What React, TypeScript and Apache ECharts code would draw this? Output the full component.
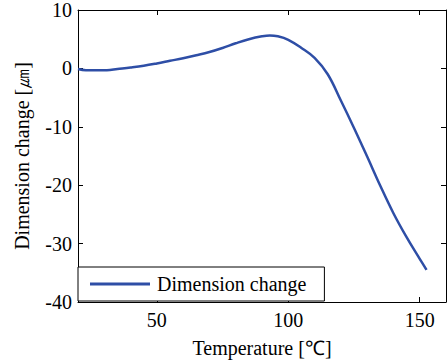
import React, { useEffect, useRef } from "react";
import * as echarts from "echarts";

const temperature = [20, 23, 31, 35, 40, 45, 50, 55, 60, 65, 70, 75, 80, 85, 90, 93, 96, 100, 105, 110, 115, 120, 125, 130, 135, 140, 145, 150, 152.6];
const dimensionChange = [-0.1, -0.3, -0.3, -0.1, 0.15, 0.45, 0.85, 1.3, 1.75, 2.25, 2.8, 3.5, 4.3, 5.0, 5.5, 5.65, 5.5, 4.9, 3.5, 1.8, -1.0, -5.5, -10.2, -15.1, -20.1, -24.8, -28.9, -32.6, -34.5];
const xTicks = [50, 100, 150];
const seriesName = "Dimension change";

const FONT = "Times New Roman";
const FS = 20;

export default function App() {
  const ref = useRef<HTMLDivElement>(null);
  useEffect(() => {
    const chart = echarts.init(ref.current!, undefined, { renderer: "svg" });
    const data = temperature.map((t, i) => [t, dimensionChange[i]]);
    const axisLine = { show: true, onZero: false, lineStyle: { color: "#000", width: 1 } };
    const tick = { show: true, inside: true, length: 5, lineStyle: { color: "#000" } };
    const txt = { fontFamily: FONT, fontSize: FS, color: "#000" };
    chart.setOption({
      animation: false,
      textStyle: { fontFamily: FONT },
      grid: { left: 78, right: 2, top: 10, bottom: 61, containLabel: false },
      legend: {
        show: true,
        left: 78,
        top: 267,
        orient: "horizontal",
        borderColor: "#000",
        borderWidth: 1,
        borderRadius: 0,
        backgroundColor: "#fff",
        padding: [7, 18, 7, 12],
        icon: "rect",
        itemWidth: 60,
        itemHeight: 3,
        itemGap: 5,
        textStyle: { ...txt, padding: [0, 0, 0, 2] },
        data: [seriesName],
      },
      xAxis: [
        {
          type: "value",
          min: 20,
          max: 160,
          position: "bottom",
          name: "Temperature [℃]",
          nameLocation: "middle",
          nameGap: 36,
          nameTextStyle: txt,
          axisLine,
          axisTick: { ...tick, customValues: xTicks },
          axisLabel: { ...txt, customValues: xTicks, margin: 8 },
          splitLine: { show: false },
        },
        {
          type: "value",
          min: 20,
          max: 160,
          position: "top",
          axisLine,
          axisTick: { ...tick, customValues: xTicks },
          axisLabel: { show: false },
          splitLine: { show: false },
        },
      ],
      yAxis: [
        {
          type: "value",
          min: -40,
          max: 10,
          interval: 10,
          position: "left",
          name: "Dimension change [㎛]",
          nameLocation: "middle",
          nameGap: 46,
          nameTextStyle: txt,
          axisLine,
          axisTick: tick,
          axisLabel: { ...txt, margin: 6 },
          splitLine: { show: false },
        },
        {
          type: "value",
          min: -40,
          max: 10,
          interval: 10,
          position: "right",
          axisLine,
          axisTick: tick,
          axisLabel: { show: false },
          splitLine: { show: false },
        },
      ],
      series: [
        {
          name: seriesName,
          type: "line",
          xAxisIndex: 0,
          yAxisIndex: 0,
          data,
          smooth: 0.4,
          symbol: "none",
          lineStyle: { color: "#2e4ea6", width: 2.5 },
          itemStyle: { color: "#2e4ea6" },
        },
      ],
    });
    return () => chart.dispose();
  }, []);
  return <div ref={ref} style={{ position: "absolute", left: 0, top: 0, width: 448, height: 363 }} />;
}
